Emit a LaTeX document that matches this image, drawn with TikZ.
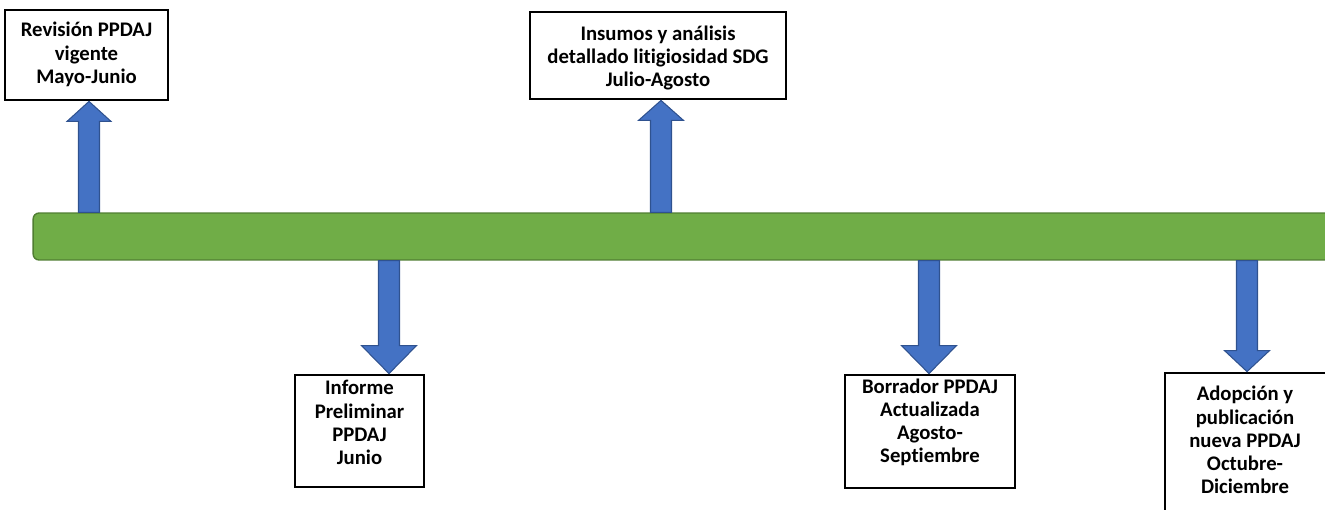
\documentclass[tikz,border=0pt]{standalone}
\usepackage{fontspec}
\setmainfont{Carlito}[Ligatures=NoCommon]
\usetikzlibrary{calc}
\definecolor{barfill}{HTML}{70AD47}
\definecolor{barline}{HTML}{507E32}
\definecolor{arrfill}{HTML}{4472C4}
\definecolor{arrline}{HTML}{2F528F}
\tikzset{
  box/.style={draw=black, line width=1.6pt, fill=white, rectangle, inner sep=0pt},
  txt/.style={align=center, font=\bfseries\fontsize{11.8}{13.2}\selectfont, inner sep=0pt},
  timebar/.style={draw=barline, line width=0.8pt, fill=barfill, rounded corners=0.12cm, inner sep=0pt},
  arr/.style={draw=arrline, line width=0.6pt, fill=arrfill}
}
\newcommand\blockarr[4]{%
  \filldraw[arr] let \p1=(#1), \p2=(#2), \n1={ifthenelse(\y2>\y1,1,-1)} in
   ({\x1-0.21cm},\y1) -- ({\x1-0.21cm},{\y2-\n1*#4}) -- ({\x1-#3},{\y2-\n1*#4})
   -- (\x1,\y2) -- ({\x1+#3},{\y2-\n1*#4}) -- ({\x1+0.21cm},{\y2-\n1*#4})
   -- ({\x1+0.21cm},\y1) -- cycle;}
\begin{document}
\begin{tikzpicture}[x=0.02cm,y=-0.02cm]
\useasboundingbox (0,0) rectangle (1325,510);
\clip (0,0) rectangle (1325,510);
% timeline bar
\node (bar) [timebar, minimum width=26.14cm, minimum height=0.94cm] at (686.5,236.5) {};
% arrow positions
\coordinate (a1) at (89,236);
\coordinate (a2) at (661,236);
\coordinate (a3) at (389,236);
\coordinate (a4) at (929,236);
\coordinate (a5) at (1247,236);
% boxes
\node (b1) [box, minimum width=3.26cm, minimum height=1.8cm] at (86.5,55) {};
\node (b2) [box, minimum width=5.12cm, minimum height=1.74cm] at (658,55.5) {};
\node (b3) [box, minimum width=2.58cm, minimum height=2.24cm] at (359.5,431) {};
\node (b4) [box, minimum width=3.4cm, minimum height=2.26cm] at (930,431.5) {};
\node (b5) [box, minimum width=3.3cm, minimum height=2.94cm] at (1247.5,446.5) {};
% arrows
\blockarr{bar.north -| a1}{b1.south -| a1}{0.44cm}{0.4cm}
\blockarr{bar.north -| a2}{b2.south -| a2}{0.45cm}{0.4cm}
\blockarr{bar.south -| a3}{b3.north -| a3}{0.55cm}{0.56cm}
\blockarr{bar.south -| a4}{b4.north -| a4}{0.55cm}{0.56cm}
\blockarr{bar.south -| a5}{b5.north -| a5}{0.45cm}{0.42cm}
% texts
\node (t1) [txt] at (86.5,54.5) {Revisión PPDAJ\\vigente\\Mayo-Junio};
\node (t2) [txt] at (658,58) {Insumos y análisis\\detallado litigiosidad SDG\\Julio-Agosto};
\node (t3) [txt] at (359.5,422.5) {Informe\\Preliminar\\PPDAJ\\Junio};
\node (t4) [txt] at (930,422.5) {Borrador PPDAJ\\Actualizada\\Agosto-\\Septiembre};
\node (t5) [txt] at (1245,440) {Adopción y\\publicación\\nueva PPDAJ\\Octubre-\\Diciembre};
\end{tikzpicture}
\end{document}
